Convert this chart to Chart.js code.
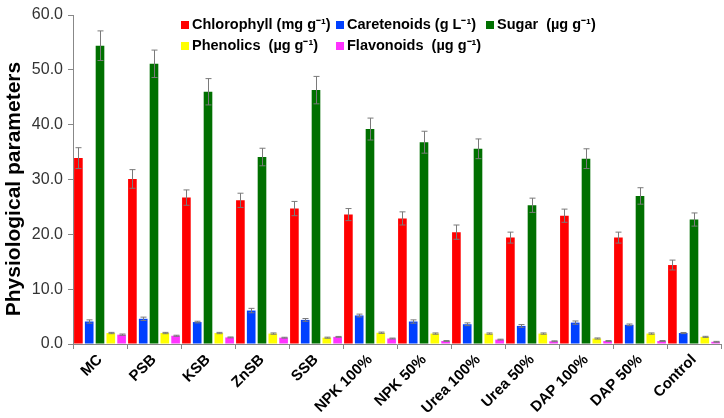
<!DOCTYPE html>
<html>
<head>
<meta charset="utf-8">
<script src="https://cdn.jsdelivr.net/npm/chart.js@4.4.1/dist/chart.umd.min.js"></script>
<style>
  html, body { margin: 0; padding: 0; background: #fff; }
  #wrap { width: 724px; height: 418px; position: relative; }
</style>
</head>
<body>
<div id="wrap"><canvas id="chart"></canvas></div>
<script>
// Treatments
var categories = ['MC', 'PSB', 'KSB', 'ZnSB', 'SSB', 'NPK 100%', 'NPK 50%', 'Urea 100%', 'Urea 50%', 'DAP 100%', 'DAP 50%', 'Control'];

// Series values and their error bars
var chlorophyll = [33.9, 30.1, 26.7, 26.2, 24.7, 23.6, 22.9, 20.4, 19.4, 23.4, 19.4, 14.4];
var chlorophyllErr = [1.9, 1.7, 1.4, 1.3, 1.3, 1.1, 1.2, 1.3, 1.0, 1.2, 1.0, 0.9];
var carotenoids = [4.1, 4.6, 4.0, 6.1, 4.4, 5.2, 4.1, 3.6, 3.3, 3.9, 3.5, 2.0];
var carotenoidsErr = [0.3, 0.3, 0.15, 0.4, 0.25, 0.25, 0.3, 0.25, 0.25, 0.3, 0.15, 0.1];
var sugar = [54.4, 51.1, 46.0, 34.1, 46.3, 39.2, 36.8, 35.6, 25.3, 33.8, 27.0, 22.7];
var sugarErr = [2.7, 2.5, 2.4, 1.6, 2.5, 2.0, 2.0, 1.8, 1.3, 1.8, 1.5, 1.2];
var phenolics = [2.0, 2.0, 2.0, 1.9, 1.15, 2.05, 1.9, 1.9, 1.9, 1.0, 1.9, 1.3];
var phenolicsErr = [0.12, 0.12, 0.12, 0.12, 0.1, 0.12, 0.12, 0.12, 0.12, 0.1, 0.12, 0.1];
var flavonoids = [1.7, 1.5, 1.2, 1.15, 1.3, 1.0, 0.55, 0.8, 0.5, 0.55, 0.55, 0.4];
var flavonoidsErr = [0.12, 0.1, 0.08, 0.08, 0.08, 0.08, 0.08, 0.08, 0.08, 0.08, 0.08, 0.08];

// Legend labels
var seriesNames = ['Chlorophyll (mg g\u207B\u00B9)', 'Caretenoids (g L\u207B\u00B9)', 'Sugar  (\u00B5g g\u207B\u00B9)', 'Phenolics  (\u00B5g g\u207B\u00B9)', 'Flavonoids  (\u00B5g g\u207B\u00B9)'];
var seriesColors = ['#ff0000', '#0040ff', '#007000', '#ffff00', '#ff33ff'];

// Y axis
var yMin = 0, yMax = 60, yStep = 10;
var yTitle = 'Physiological parameters';

var FONT = "'Liberation Sans', Arial, sans-serif";

// error bars drawn over each bar
var errorBars = {
  id: 'errorBars',
  afterDatasetsDraw: function (chart) {
    var ctx = chart.ctx;
    var y = chart.scales.y;
    ctx.save();
    ctx.strokeStyle = '#7a7a7a';
    ctx.lineWidth = 1;
    chart.data.datasets.forEach(function (ds, i) {
      var meta = chart.getDatasetMeta(i);
      meta.data.forEach(function (bar, j) {
        var v = ds.data[j], e = ds.errors[j];
        var x = Math.round(bar.x) + 0.5;
        var top = y.getPixelForValue(v + e);
        var bot = y.getPixelForValue(v - e);
        ctx.beginPath();
        ctx.moveTo(x, top); ctx.lineTo(x, bot);
        ctx.moveTo(x - 3, top); ctx.lineTo(x + 3, top);
        ctx.moveTo(x - 3, bot); ctx.lineTo(x + 3, bot);
        ctx.stroke();
      });
    });
    ctx.restore();
  }
};

// two-row legend and the y title, placed like the original
var decorations = {
  id: 'decorations',
  afterDraw: function (chart) {
    var ctx = chart.ctx;
    var cols = [181, 336, 486];
    var rows = [25, 46];
    ctx.save();
    ctx.font = 'bold 14.5px ' + FONT;
    ctx.textBaseline = 'middle';
    seriesNames.forEach(function (name, i) {
      var cx = cols[i % 3], cy = rows[Math.floor(i / 3)];
      ctx.fillStyle = seriesColors[i];
      ctx.fillRect(cx, cy - 4, 8, 8);
      ctx.fillStyle = '#000';
      ctx.fillText(name, cx + 11, cy);
    });

    // y axis title
    ctx.translate(14, 189);
    ctx.rotate(-Math.PI / 2);
    ctx.textAlign = 'center';
    ctx.font = 'bold 21px ' + FONT;
    ctx.fillText(yTitle, 0, 0);
    ctx.restore();
  }
};

var datasets = [
  { label: seriesNames[0], data: chlorophyll, errors: chlorophyllErr },
  { label: seriesNames[1], data: carotenoids, errors: carotenoidsErr },
  { label: seriesNames[2], data: sugar, errors: sugarErr },
  { label: seriesNames[3], data: phenolics, errors: phenolicsErr },
  { label: seriesNames[4], data: flavonoids, errors: flavonoidsErr }
].map(function (d, i) {
  d.backgroundColor = seriesColors[i];
  d.borderWidth = 0;
  d.categoryPercentage = 1.0;
  d.barPercentage = 0.8;
  return d;
});

new Chart(document.getElementById('chart'), {
  type: 'bar',
  data: { labels: categories, datasets: datasets },
  options: {
    responsive: true,
    maintainAspectRatio: false,
    animation: false,
    layout: { padding: { left: 0, right: 3, top: 15, bottom: 0 } },
    plugins: {
      legend: { display: false },
      tooltip: { enabled: false }
    },
    scales: {
      x: {
        grid: { display: true, drawOnChartArea: false, offset: true, tickLength: 5, color: '#888' },
        border: { color: '#888' },
        ticks: {
          color: '#000',
          font: { family: FONT, size: 15, weight: 'bold' },
          maxRotation: 45, minRotation: 45,
          padding: 2
        },
        afterFit: function (s) { s.height = 74; }
      },
      y: {
        min: yMin, max: yMax,
        grid: { display: true, drawOnChartArea: false, tickLength: 5, color: '#888' },
        border: { color: '#888' },
        ticks: {
          stepSize: yStep,
          color: '#333',
          font: { family: FONT, size: 16 },
          padding: 5,
          callback: function (v) { return v.toFixed(1); }
        },
        afterFit: function (s) { s.width = 73; }
      }
    }
  },
  plugins: [errorBars, decorations]
});
</script>
</body>
</html>
